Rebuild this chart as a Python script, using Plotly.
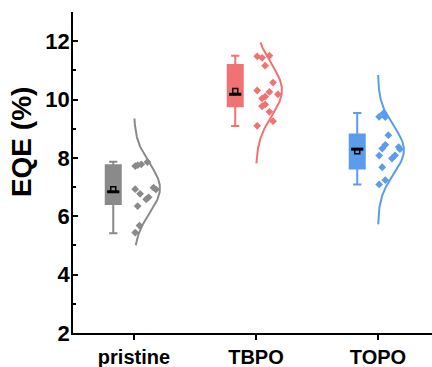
import numpy as np
import plotly.graph_objects as go

categories = ["pristine", "TBPO", "TOPO"]
colors = ["#8a8a8a", "#f07272", "#5b9cec"]

# scatter values (EQE %) and their horizontal jitter
pristine_vals = [7.72, 7.75, 7.78, 7.86, 6.98, 6.92, 6.93, 6.77, 6.65, 6.58, 6.35, 5.68, 5.44]
pristine_jit = [0.01, 0.03, 0.06, 0.11, 0.16, 0.18, 0.01, 0.05, 0.12, 0.10, 0.03, 0.045, 0.01]
tbpo_vals = [11.48, 11.43, 11.50, 11.16, 10.58, 10.31, 10.26, 10.18, 10.10, 10.04, 9.83, 9.77, 9.58, 9.26, 9.10]
tbpo_jit = [0.01, 0.05, 0.11, 0.075, 0.14, 0.01, 0.11, 0.18, 0.075, 0.05, 0.075, 0.05, 0.11, 0.14, 0.01]
topo_vals = [9.41, 9.53, 9.40, 8.78, 8.45, 8.32, 8.37, 8.30, 8.09, 7.98, 8.08, 7.68, 7.24, 7.09]
topo_jit = [0.01, 0.045, 0.06, 0.085, 0.06, 0.035, 0.17, 0.18, 0.14, 0.115, 0.01, 0.035, 0.06, 0.01]

# box statistics
box_lower = [5.42, 9.09, 7.09]
box_q1 = [6.42, 9.77, 7.64]
box_median = [6.84, 10.18, 8.30]
box_q3 = [7.75, 11.18, 8.80]
box_upper = [7.87, 11.50, 9.54]
box_mean = [6.93, 10.29, 8.23]

# normal distribution curves
curve_mean = [6.96, 10.32, 8.27]
curve_sd = [0.84, 0.88, 0.82]
curve_lo = [5.01, 7.81, 5.72]
curve_hi = [9.35, 11.96, 10.84]

y_title = "EQE (%)"

all_vals = [pristine_vals, tbpo_vals, topo_vals]
all_jit = [pristine_jit, tbpo_jit, topo_jit]

BOX_OFF = -0.17
BOX_W = 0.123
CURVE_AMP = 0.213

fig = go.Figure()
for i, c in enumerate(categories):
    col = colors[i]
    pos = i + BOX_OFF
    fig.add_trace(go.Box(
        x=[pos], q1=[box_q1[i]], median=[box_median[i]], q3=[box_q3[i]],
        lowerfence=[box_lower[i]], upperfence=[box_upper[i]],
        width=BOX_W, whiskerwidth=0.55, fillcolor=col,
        line=dict(color=col, width=2), boxpoints=False, showlegend=False,
        hoverinfo="skip"))
    fig.add_trace(go.Scatter(
        x=[pos - 0.05, pos + 0.05], y=[box_median[i], box_median[i]],
        mode="lines", line=dict(color="black", width=3), showlegend=False))
    fig.add_trace(go.Scatter(
        x=[pos], y=[box_mean[i]], mode="markers",
        marker=dict(symbol="square-open", size=5, color="black", line=dict(width=1.5)),
        showlegend=False))
    fig.add_trace(go.Scatter(
        x=[i + j for j in all_jit[i]], y=all_vals[i], mode="markers",
        marker=dict(symbol="diamond", size=6, color=col), showlegend=False))
    yy = np.linspace(curve_lo[i], curve_hi[i], 200)
    xx = i + CURVE_AMP * np.exp(-((yy - curve_mean[i]) ** 2) / (2 * curve_sd[i] ** 2))
    fig.add_trace(go.Scatter(
        x=xx, y=yy, mode="lines", line=dict(color=col, width=2), showlegend=False))

font_family = "Arial, Liberation Sans, sans-serif"
fig.add_annotation(
    text=y_title, textangle=-90, xref="paper", yref="y", x=-0.145, y=8.54,
    xanchor="center", yanchor="middle", showarrow=False,
    font=dict(size=28, family=font_family, weight="bold", color="black"))
fig.update_layout(
    width=432, height=367,
    margin=dict(l=73, r=0, t=12, b=34),
    plot_bgcolor="white", paper_bgcolor="white",
    font=dict(family=font_family, color="black"),
    xaxis=dict(
        range=[-0.5, 2.443], tickmode="array", tickvals=[0, 1, 2], ticktext=categories,
        showline=True, linecolor="black", linewidth=1.5, ticks="outside", ticklen=5,
        tickwidth=1.5, tickcolor="black", showgrid=False, zeroline=False,
        ticklabelstandoff=0, automargin=False,
        tickfont=dict(size=20, family=font_family, weight="bold")),
    yaxis=dict(
        range=[2, 13], dtick=2, tick0=2, showline=True, linecolor="black", linewidth=1.5,
        ticks="inside", ticklen=5, tickwidth=1.5, tickcolor="black",
        minor=dict(dtick=1, ticks="inside", ticklen=3, tickcolor="black", tickwidth=1.5),
        showgrid=False, zeroline=False, ticklabelstandoff=-3, automargin=False,
        tickfont=dict(size=22, family=font_family, weight="bold")),
)
fig.write_html("out.html")
